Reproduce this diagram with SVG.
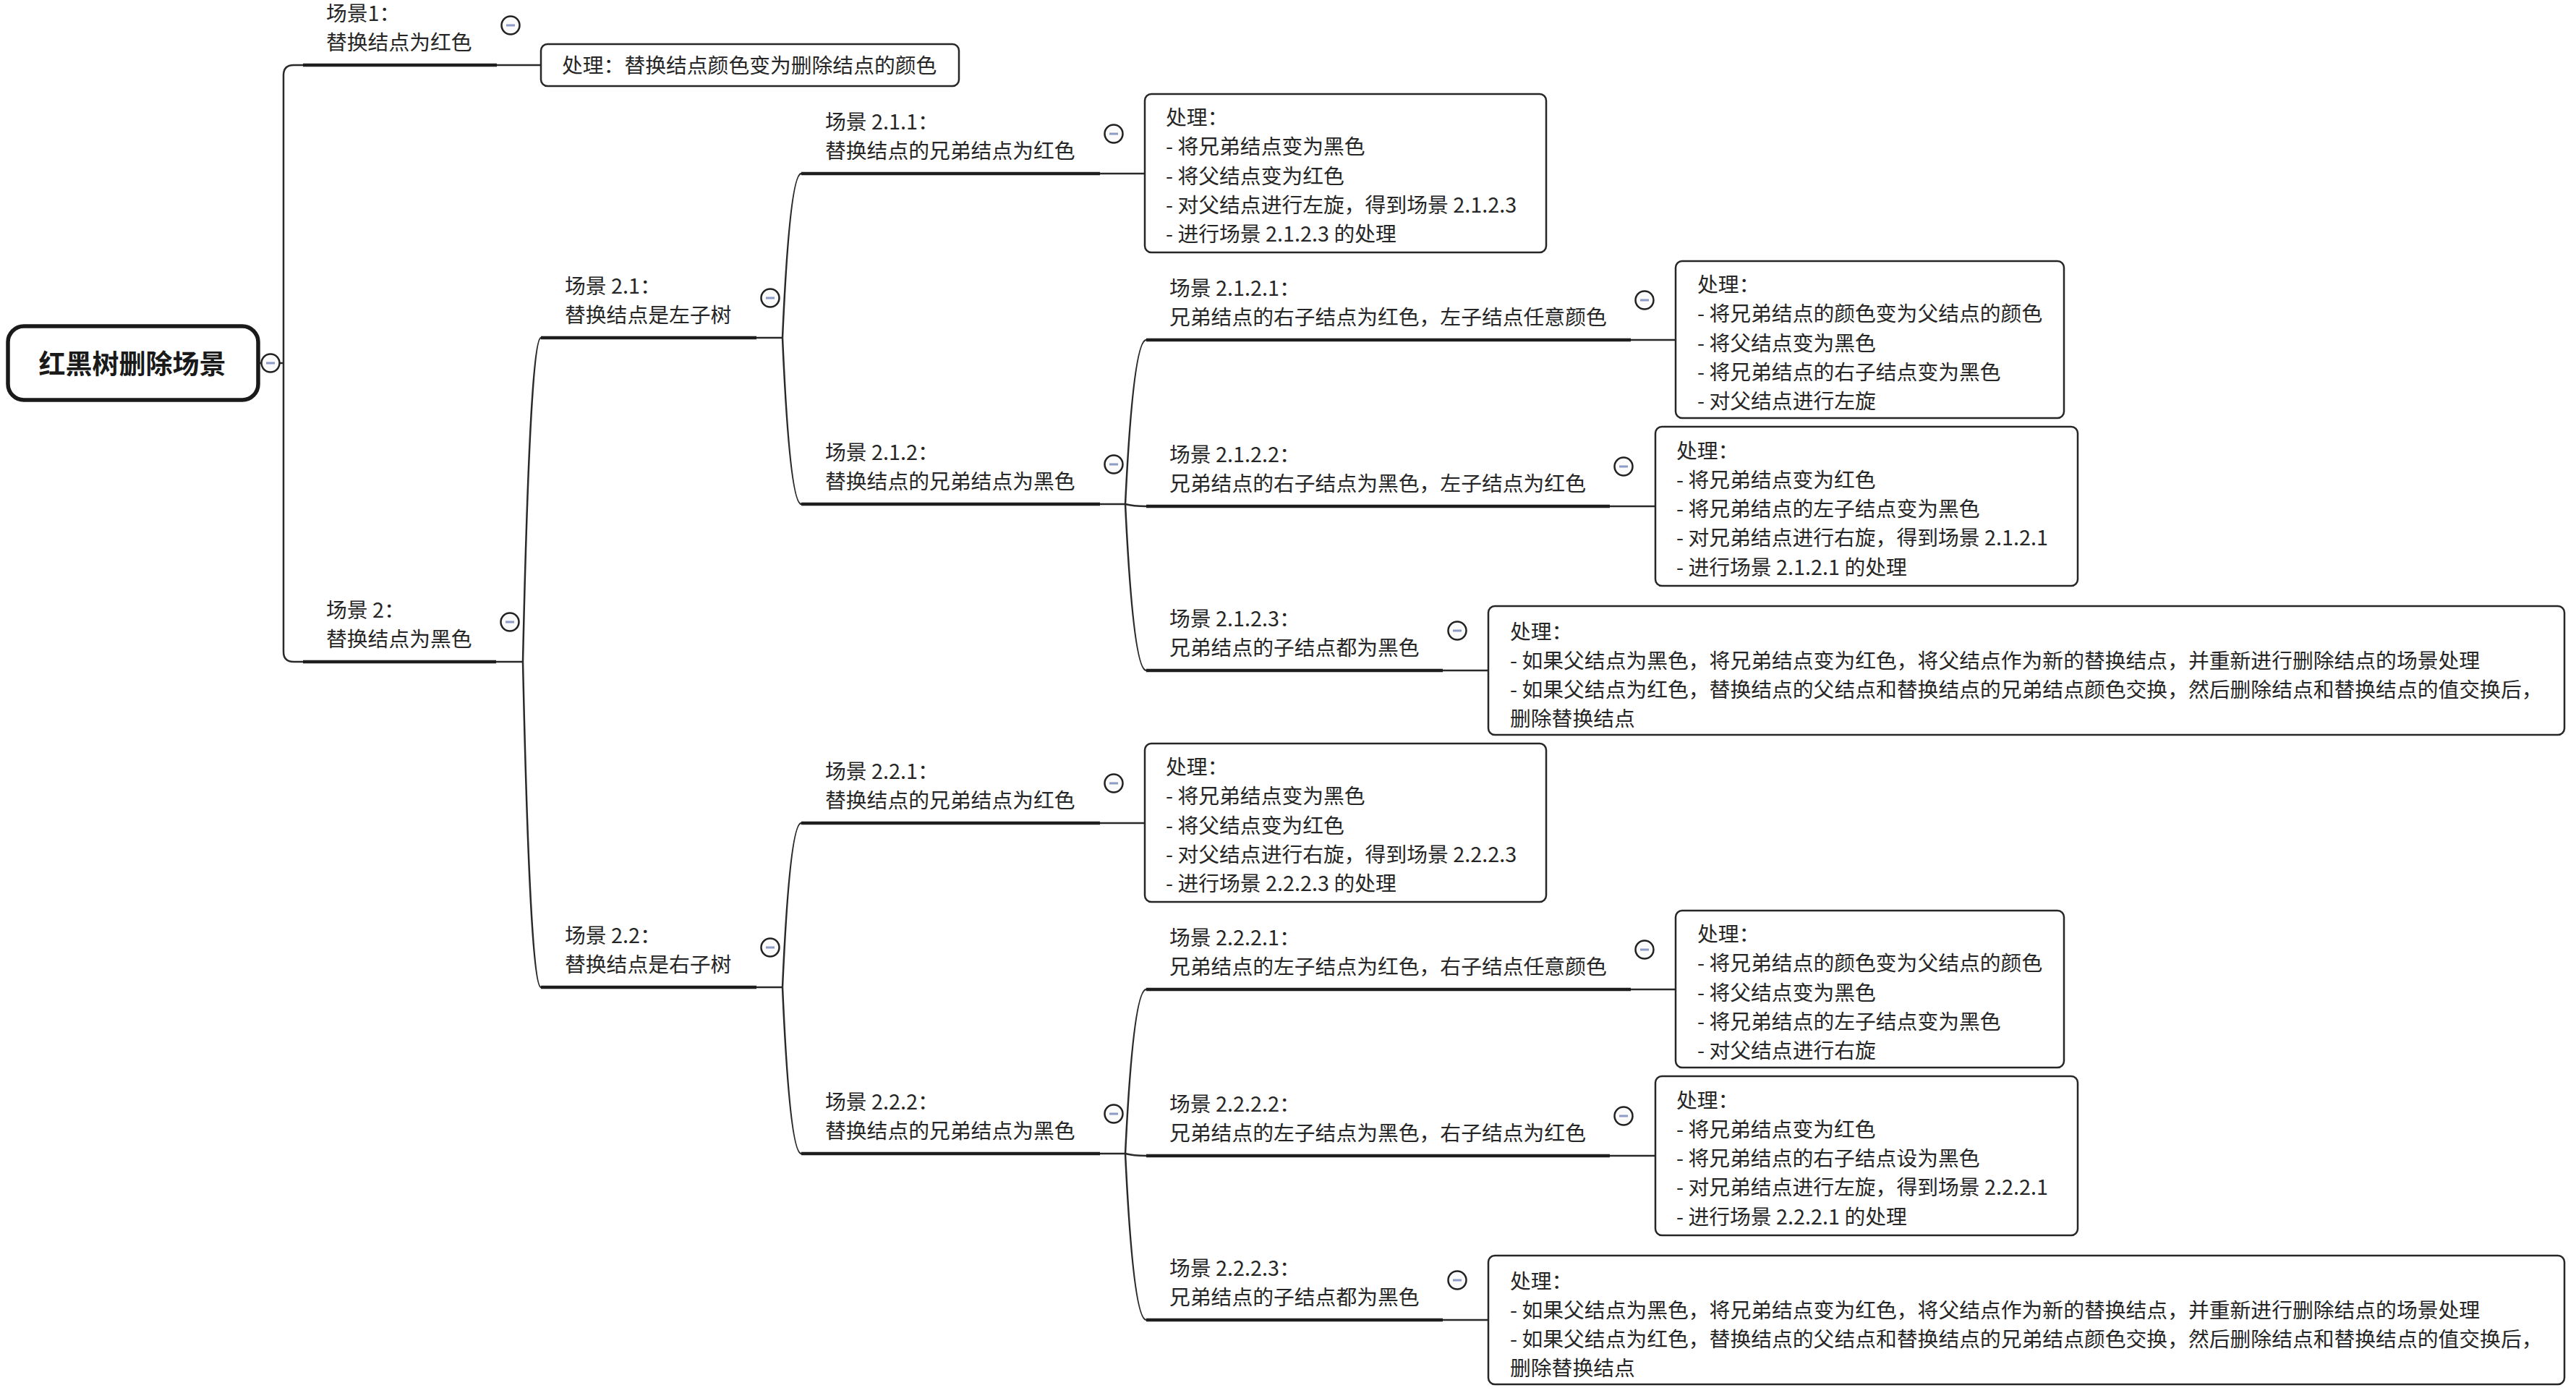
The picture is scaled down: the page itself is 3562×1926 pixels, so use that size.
<svg xmlns="http://www.w3.org/2000/svg" xmlns:xlink="http://www.w3.org/1999/xlink" width="3562" height="1926" viewBox="0 0 3562 1926">
<style>
.t{font-family:"Noto Sans CJK SC","Noto Sans",sans-serif;font-size:28.8px;fill:#262626}
.rt{font-family:"Noto Sans CJK SC","Noto Sans",sans-serif;font-size:37px;font-weight:bold;fill:#1a1a1a}
.box{fill:#fff;stroke:#262626;stroke-width:2.5}
.rbox{fill:#fff;stroke:#1a1a1a;stroke-width:5.5}
.ul{stroke:#1e1e1e;stroke-width:4.5;fill:none}
.cn{stroke:#2a2a2a;stroke-width:2.5;fill:none}
</style>
<defs>
<g id="tg"><circle r="12.5" fill="#fbfbfb" stroke="#222" stroke-width="2.5"/><line x1="-6" y1="0" x2="6" y2="0" stroke="#8d9bc7" stroke-width="3"/></g>
</defs>
<rect width="3562" height="1926" fill="#fff"/>
<g id="connectors">
<path class="cn" d="M357,502 H362 M386,502 H392"/>
<path class="cn" d="M419,90 H406 Q392,90 392,104 V901 Q392,915 406,915 H419"/>
<path class="cn" d="M687,90 H748"/>
<path class="cn" d="M686,915 H723 M723,915 Q733,467 748,467 M723,915 Q733,1365 748,1365"/>
<path class="cn" d="M1046,467 H1082 M1082,467 Q1092,240 1108,240 M1082,467 Q1092,697 1108,697"/>
<path class="cn" d="M1521,240 H1583"/>
<path class="cn" d="M1521,697 H1556 M1556,697 Q1567,470 1585,470 M1556,697 Q1567,700 1585,700 M1556,697 Q1567,927 1585,927"/>
<path class="cn" d="M2255,470 H2317 M2226,700 H2289 M1995,927 H2058"/>
<path class="cn" d="M1046,1365 H1082 M1082,1365 Q1092,1138 1108,1138 M1082,1365 Q1092,1595 1108,1595"/>
<path class="cn" d="M1521,1138 H1583"/>
<path class="cn" d="M1521,1595 H1556 M1556,1595 Q1567,1368 1585,1368 M1556,1595 Q1567,1598 1585,1598 M1556,1595 Q1567,1825 1585,1825"/>
<path class="cn" d="M2255,1368 H2317 M2226,1598 H2289 M1995,1825 H2058"/>
</g>
<g id="root">
<rect class="rbox" x="11" y="451" width="346" height="102" rx="22"/>
<text class="rt" x="183" y="517" text-anchor="middle">红黑树删除场景</text>
<use href="#tg" x="374" y="502"/>
</g>
<g id="s1">
<text class="t"><tspan x="451" y="29">场景1：</tspan><tspan x="451" y="69">替换结点为红色</tspan></text>
<line class="ul" x1="419" y1="90" x2="687" y2="90"/>
<use href="#tg" x="706" y="35"/>
</g>
<g id="s1-proc">
<rect class="box" x="748" y="61" width="578" height="58" rx="9"/>
<text class="t" x="777" y="100.5">处理：替换结点颜色变为删除结点的颜色</text>
</g>
<g id="s2">
<text class="t"><tspan x="451" y="854">场景 2：</tspan><tspan x="451" y="894">替换结点为黑色</tspan></text>
<line class="ul" x1="419" y1="915" x2="686" y2="915"/>
<use href="#tg" x="705" y="860"/>
</g>
<g id="s21">
<text class="t"><tspan x="781" y="406">场景 2.1：</tspan><tspan x="781" y="446">替换结点是左子树</tspan></text>
<line class="ul" x1="748" y1="467" x2="1046" y2="467"/>
<use href="#tg" x="1065" y="412"/>
</g>
<g id="s211">
<text class="t"><tspan x="1141" y="179">场景 2.1.1：</tspan><tspan x="1141" y="219">替换结点的兄弟结点为红色</tspan></text>
<line class="ul" x1="1108" y1="240" x2="1521" y2="240"/>
<use href="#tg" x="1540" y="185"/>
</g>
<g id="s211-proc">
<rect class="box" x="1583" y="130" width="555" height="219" rx="9"/>
<text class="t"><tspan x="1612" y="173">处理：</tspan><tspan x="1612" y="213.3">- 将兄弟结点变为黑色</tspan><tspan x="1612" y="253.6">- 将父结点变为红色</tspan><tspan x="1612" y="293.9">- 对父结点进行左旋，得到场景 2.1.2.3</tspan><tspan x="1612" y="334.2">- 进行场景 2.1.2.3 的处理</tspan></text>
</g>
<g id="s212">
<text class="t"><tspan x="1141" y="636">场景 2.1.2：</tspan><tspan x="1141" y="676">替换结点的兄弟结点为黑色</tspan></text>
<line class="ul" x1="1108" y1="697" x2="1521" y2="697"/>
<use href="#tg" x="1540" y="642"/>
</g>
<g id="s2121">
<text class="t"><tspan x="1617" y="409">场景 2.1.2.1：</tspan><tspan x="1617" y="449">兄弟结点的右子结点为红色，左子结点任意颜色</tspan></text>
<line class="ul" x1="1585" y1="470" x2="2255" y2="470"/>
<use href="#tg" x="2274" y="415"/>
</g>
<g id="s2121-proc">
<rect class="box" x="2317" y="361" width="537" height="217" rx="9"/>
<text class="t"><tspan x="2347" y="404">处理：</tspan><tspan x="2347" y="444.3">- 将兄弟结点的颜色变为父结点的颜色</tspan><tspan x="2347" y="484.6">- 将父结点变为黑色</tspan><tspan x="2347" y="524.9">- 将兄弟结点的右子结点变为黑色</tspan><tspan x="2347" y="565.2">- 对父结点进行左旋</tspan></text>
</g>
<g id="s2122">
<text class="t"><tspan x="1617" y="639">场景 2.1.2.2：</tspan><tspan x="1617" y="679">兄弟结点的右子结点为黑色，左子结点为红色</tspan></text>
<line class="ul" x1="1585" y1="700" x2="2226" y2="700"/>
<use href="#tg" x="2245" y="645"/>
</g>
<g id="s2122-proc">
<rect class="box" x="2289" y="590" width="584" height="220" rx="9"/>
<text class="t"><tspan x="2318" y="633.5">处理：</tspan><tspan x="2318" y="673.8">- 将兄弟结点变为红色</tspan><tspan x="2318" y="714.1">- 将兄弟结点的左子结点变为黑色</tspan><tspan x="2318" y="754.4">- 对兄弟结点进行右旋，得到场景 2.1.2.1</tspan><tspan x="2318" y="794.7">- 进行场景 2.1.2.1 的处理</tspan></text>
</g>
<g id="s2123">
<text class="t"><tspan x="1617" y="866">场景 2.1.2.3：</tspan><tspan x="1617" y="906">兄弟结点的子结点都为黑色</tspan></text>
<line class="ul" x1="1585" y1="927" x2="1995" y2="927"/>
<use href="#tg" x="2015" y="872"/>
</g>
<g id="s2123-proc">
<rect class="box" x="2058" y="838" width="1488" height="178" rx="9"/>
<text class="t"><tspan x="2088" y="884">处理：</tspan><tspan x="2088" y="924">- 如果父结点为黑色，将兄弟结点变为红色，将父结点作为新的替换结点，并重新进行删除结点的场景处理</tspan><tspan x="2088" y="964">- 如果父结点为红色，替换结点的父结点和替换结点的兄弟结点颜色交换，然后删除结点和替换结点的值交换后，</tspan><tspan x="2088" y="1004">删除替换结点</tspan></text>
</g>
<g id="s22">
<text class="t"><tspan x="781" y="1304">场景 2.2：</tspan><tspan x="781" y="1344">替换结点是右子树</tspan></text>
<line class="ul" x1="748" y1="1365" x2="1046" y2="1365"/>
<use href="#tg" x="1065" y="1310"/>
</g>
<g id="s221">
<text class="t"><tspan x="1141" y="1077">场景 2.2.1：</tspan><tspan x="1141" y="1117">替换结点的兄弟结点为红色</tspan></text>
<line class="ul" x1="1108" y1="1138" x2="1521" y2="1138"/>
<use href="#tg" x="1540" y="1083"/>
</g>
<g id="s221-proc">
<rect class="box" x="1583" y="1028" width="555" height="219" rx="9"/>
<text class="t"><tspan x="1612" y="1071">处理：</tspan><tspan x="1612" y="1111.3">- 将兄弟结点变为黑色</tspan><tspan x="1612" y="1151.6">- 将父结点变为红色</tspan><tspan x="1612" y="1191.9">- 对父结点进行右旋，得到场景 2.2.2.3</tspan><tspan x="1612" y="1232.2">- 进行场景 2.2.2.3 的处理</tspan></text>
</g>
<g id="s222">
<text class="t"><tspan x="1141" y="1534">场景 2.2.2：</tspan><tspan x="1141" y="1574">替换结点的兄弟结点为黑色</tspan></text>
<line class="ul" x1="1108" y1="1595" x2="1521" y2="1595"/>
<use href="#tg" x="1540" y="1540"/>
</g>
<g id="s2221">
<text class="t"><tspan x="1617" y="1307">场景 2.2.2.1：</tspan><tspan x="1617" y="1347">兄弟结点的左子结点为红色，右子结点任意颜色</tspan></text>
<line class="ul" x1="1585" y1="1368" x2="2255" y2="1368"/>
<use href="#tg" x="2274" y="1313"/>
</g>
<g id="s2221-proc">
<rect class="box" x="2317" y="1259" width="537" height="217" rx="9"/>
<text class="t"><tspan x="2347" y="1302">处理：</tspan><tspan x="2347" y="1342.3">- 将兄弟结点的颜色变为父结点的颜色</tspan><tspan x="2347" y="1382.6">- 将父结点变为黑色</tspan><tspan x="2347" y="1422.9">- 将兄弟结点的左子结点变为黑色</tspan><tspan x="2347" y="1463.2">- 对父结点进行右旋</tspan></text>
</g>
<g id="s2222">
<text class="t"><tspan x="1617" y="1537">场景 2.2.2.2：</tspan><tspan x="1617" y="1577">兄弟结点的左子结点为黑色，右子结点为红色</tspan></text>
<line class="ul" x1="1585" y1="1598" x2="2226" y2="1598"/>
<use href="#tg" x="2245" y="1543"/>
</g>
<g id="s2222-proc">
<rect class="box" x="2289" y="1488" width="584" height="220" rx="9"/>
<text class="t"><tspan x="2318" y="1531.5">处理：</tspan><tspan x="2318" y="1571.8">- 将兄弟结点变为红色</tspan><tspan x="2318" y="1612.1">- 将兄弟结点的右子结点设为黑色</tspan><tspan x="2318" y="1652.4">- 对兄弟结点进行左旋，得到场景 2.2.2.1</tspan><tspan x="2318" y="1692.7">- 进行场景 2.2.2.1 的处理</tspan></text>
</g>
<g id="s2223">
<text class="t"><tspan x="1617" y="1764">场景 2.2.2.3：</tspan><tspan x="1617" y="1804">兄弟结点的子结点都为黑色</tspan></text>
<line class="ul" x1="1585" y1="1825" x2="1995" y2="1825"/>
<use href="#tg" x="2015" y="1770"/>
</g>
<g id="s2223-proc">
<rect class="box" x="2058" y="1736" width="1488" height="178" rx="9"/>
<text class="t"><tspan x="2088" y="1782">处理：</tspan><tspan x="2088" y="1822">- 如果父结点为黑色，将兄弟结点变为红色，将父结点作为新的替换结点，并重新进行删除结点的场景处理</tspan><tspan x="2088" y="1862">- 如果父结点为红色，替换结点的父结点和替换结点的兄弟结点颜色交换，然后删除结点和替换结点的值交换后，</tspan><tspan x="2088" y="1902">删除替换结点</tspan></text>
</g>
</svg>
